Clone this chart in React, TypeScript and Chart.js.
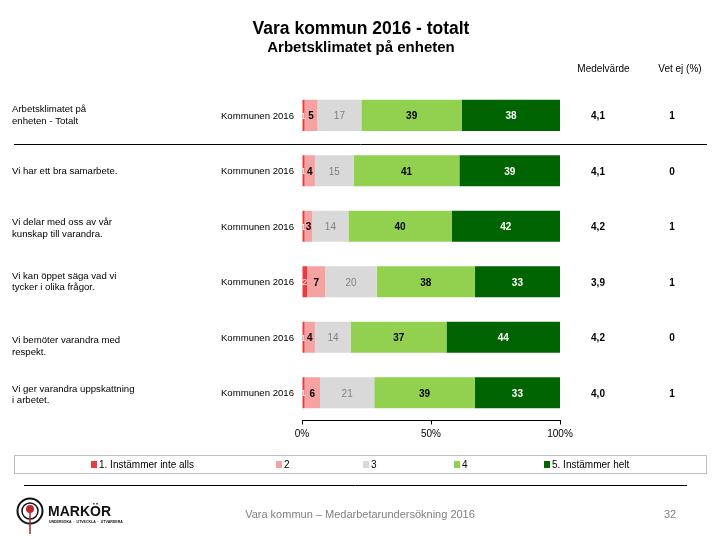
import { useEffect, useRef } from 'react';
import { Chart, registerables } from 'chart.js';

Chart.register(...registerables);

const FONT = '"Liberation Sans", Arial, Helvetica, sans-serif';

// ---- data ----
const questions = [
  'Arbetsklimatet på\nenheten - Totalt',
  'Vi har ett bra samarbete.',
  'Vi delar med oss av vår\nkunskap till varandra.',
  'Vi kan öppet säga vad vi\ntycker i olika frågor.',
  'Vi bemöter varandra med\nrespekt.',
  'Vi ger varandra uppskattning\ni arbetet.',
];
const groupLabel = 'Kommunen 2016';
const seriesNames = ['1. Instämmer inte alls', '2', '3', '4', '5. Instämmer helt'];
const s1 = [1, 1, 1, 2, 1, 1];
const s2 = [5, 4, 3, 7, 4, 6];
const s3 = [17, 15, 14, 20, 14, 21];
const s4 = [39, 41, 40, 38, 37, 39];
const s5 = [38, 39, 42, 33, 44, 33];
const means = [4.1, 4.1, 4.2, 3.9, 4.2, 4.0];
const vetEj = [1, 0, 1, 1, 0, 1];
const xTickValues = [0, 50, 100];
const title = 'Vara kommun 2016 - totalt';
const subtitle = 'Arbetsklimatet på enheten';
const colHeaders = ['Medelvärde', 'Vet ej (%)'];
const footerText = 'Vara kommun – Medarbetarundersökning 2016';
const pageNumber = '32';

// ---- style ----
const colors = ['#ec3b3e', '#f4a2a2', '#d9d9d9', '#92d050', '#006400'];
const labelStyle = [
  { color: '#ffffff', weight: 'normal', size: 9 },
  { color: '#000000', weight: 'bold', size: 10 },
  { color: '#808080', weight: 'normal', size: 10 },
  { color: '#000000', weight: 'bold', size: 10 },
  { color: '#ffffff', weight: 'bold', size: 10 },
];
const questionOffsets = [0, 1, 2, 0, 9, 2];
const legendX = [91, 276, 363, 454, 544];

export default function App() {
  const ref = useRef<HTMLCanvasElement>(null);

  useEffect(() => {
    const canvas = ref.current;
    if (!canvas) return;
    const series = [s1, s2, s3, s4, s5];

    const overlay = {
      id: 'overlay',
      afterDatasetsDraw(chart: any) {
        const ctx = chart.ctx as CanvasRenderingContext2D;
        ctx.save();
        ctx.textAlign = 'center';
        ctx.textBaseline = 'middle';
        series.forEach((vals, d) => {
          const meta = chart.getDatasetMeta(d);
          const st = labelStyle[d];
          ctx.fillStyle = st.color;
          ctx.font = `${st.weight} ${st.size}px ${FONT}`;
          meta.data.forEach((el: any, i: number) => {
            const p = el.getProps(['x', 'base', 'y'], true);
            ctx.fillText(String(vals[i]), (p.x + p.base) / 2, p.y + 1);
          });
        });
        ctx.restore();
      },
      afterDraw(chart: any) {
        const ctx = chart.ctx as CanvasRenderingContext2D;
        const yScale = chart.scales.y;
        ctx.save();
        ctx.fillStyle = '#000';
        ctx.textBaseline = 'middle';
        // titles
        ctx.textAlign = 'center';
        ctx.font = `bold 17.5px ${FONT}`;
        ctx.fillText(title, 361, 29);
        ctx.font = `bold 15px ${FONT}`;
        ctx.fillText(subtitle, 361, 48);
        // column headers
        ctx.font = `10px ${FONT}`;
        ctx.fillText(colHeaders[0], 603.5, 69);
        ctx.fillText(colHeaders[1], 680, 69);

        // rows
        questions.forEach((q, i) => {
          const yc = yScale.getPixelForValue(i);
          const lines = q.split('\n');
          ctx.font = `9.6px ${FONT}`;
          ctx.textAlign = 'left';
          ctx.fillStyle = '#000';
          const lh = 11.5;
          const start = yc + questionOffsets[i] - ((lines.length - 1) * lh) / 2;
          lines.forEach((ln, k) => ctx.fillText(ln, 12, start + k * lh));
          ctx.textAlign = 'right';
          ctx.fillText(groupLabel, 294, yc + 1);
          ctx.textAlign = 'center';
          ctx.font = `bold 10px ${FONT}`;
          ctx.fillText(means[i].toFixed(1).replace('.', ','), 598, yc + 1);
          ctx.fillText(String(vetEj[i]), 672, yc + 1);
        });

        // separator after first row
        const y0 = yScale.getPixelForValue(0);
        const y1 = yScale.getPixelForValue(1);
        const sy = Math.round((y0 + y1) / 2 + 1) + 0.5;
        ctx.strokeStyle = '#000';
        ctx.lineWidth = 1;
        ctx.beginPath();
        ctx.moveTo(14, sy);
        ctx.lineTo(707, sy);
        ctx.stroke();

        // legend
        ctx.strokeStyle = '#bfbfbf';
        ctx.strokeRect(14.5, 455.5, 692, 18);
        ctx.font = `10px ${FONT}`;
        ctx.textAlign = 'left';
        seriesNames.forEach((n, k) => {
          ctx.fillStyle = colors[k];
          ctx.fillRect(legendX[k], 461, 6, 7);
          ctx.fillStyle = '#000';
          ctx.fillText(n, legendX[k] + 8, 465);
        });

        // footer line
        ctx.strokeStyle = '#000';
        ctx.beginPath();
        ctx.moveTo(24, 485.5);
        ctx.lineTo(687, 485.5);
        ctx.stroke();

        // footer text
        ctx.fillStyle = '#7f7f7f';
        ctx.font = `11px ${FONT}`;
        ctx.textAlign = 'center';
        ctx.fillText(footerText, 360, 515);
        ctx.fillText(pageNumber, 670, 515);

        // logo
        ctx.strokeStyle = '#111';
        ctx.lineWidth = 2;
        ctx.beginPath();
        ctx.arc(30, 511, 12.5, 0, Math.PI * 2);
        ctx.stroke();
        ctx.lineWidth = 1.5;
        ctx.beginPath();
        ctx.arc(30, 511, 8, 0, Math.PI * 2);
        ctx.stroke();
        ctx.fillStyle = '#c0282d';
        ctx.beginPath();
        ctx.arc(30, 509, 4, 0, Math.PI * 2);
        ctx.fill();
        ctx.strokeStyle = '#a02a30';
        ctx.lineWidth = 1.5;
        ctx.beginPath();
        ctx.moveTo(30, 512);
        ctx.lineTo(30, 534);
        ctx.stroke();
        ctx.fillStyle = '#111';
        ctx.textAlign = 'left';
        ctx.font = `900 14px ${FONT}`;
        ctx.fillText('MARKÖR', 48, 512);
        ctx.font = `bold 3.5px ${FONT}`;
        ctx.fillText('UNDERSÖKA  ·  UTVECKLA  ·  UTVÄRDERA', 49, 522);

        ctx.restore();
      },
    };

    const chart = new Chart(canvas, {
      type: 'bar',
      data: {
        labels: questions,
        datasets: series.map((vals, k) => ({
          label: seriesNames[k],
          data: vals,
          backgroundColor: colors[k],
          borderWidth: 0,
          barPercentage: 0.56,
          categoryPercentage: 1,
          stack: 'a',
        })),
      },
      options: {
        indexAxis: 'y',
        responsive: false,
        animation: false,
        events: [],
        layout: { padding: { left: 302, right: 160, top: 87.6, bottom: 0 } },
        plugins: {
          legend: { display: false },
          tooltip: { enabled: false },
          title: { display: false },
        },
        scales: {
          x: {
            stacked: true,
            min: 0,
            max: 100,
            afterBuildTicks: (s: any) => {
              s.ticks = xTickValues.map((v) => ({ value: v }));
            },
            ticks: {
              callback: (v: any) => v + '%',
              color: '#000',
              font: { family: FONT, size: 10 },
              padding: 4,
              maxRotation: 0,
            },
            grid: { drawOnChartArea: false, drawTicks: true, tickLength: 4, color: '#000' },
            border: { display: true, color: '#000', width: 1 },
            afterFit: (s: any) => {
              s.height = 119.5;
            },
          },
          y: { stacked: true, display: false },
        },
      },
      plugins: [overlay],
    } as any);

    return () => chart.destroy();
  }, []);

  return (
    <div style={{ position: 'absolute', left: 0, top: 0, width: 720, height: 540, background: '#fff' }}>
      <canvas ref={ref} width={720} height={540} style={{ display: 'block', width: 720, height: 540 }} />
    </div>
  );
}
